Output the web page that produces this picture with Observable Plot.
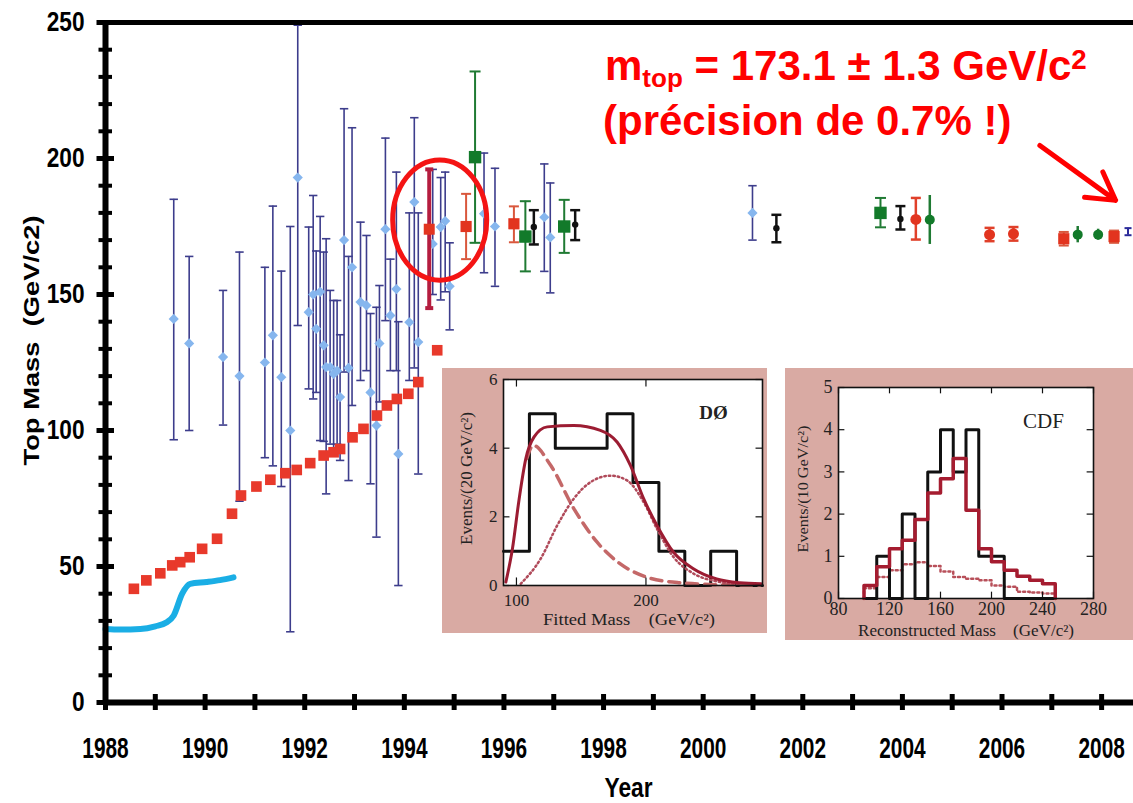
<!DOCTYPE html>
<html><head><meta charset="utf-8">
<script src="https://cdn.jsdelivr.net/npm/d3@7"></script>
<script src="https://cdn.jsdelivr.net/npm/@observablehq/plot@0.6"></script>
<style>
body{margin:0;background:#fff;}
#wrap{position:relative;width:1133px;height:803px;overflow:hidden;background:#fff;font-family:"Liberation Sans",Arial,sans-serif;}
#wrap > svg, #wrap > div{position:absolute;}
.note{color:#ff0000;font-weight:bold;font-size:42px;line-height:50px;white-space:nowrap;font-family:"Liberation Sans",Arial,sans-serif;}
.note .sb{font-size:0.62em;position:relative;top:0.25em;}
.note .sp{font-size:0.66em;position:relative;top:-0.4em;}
</style></head><body><div id="wrap"></div>
<script>
// ---------- main chart data ----------
const xTickYears = [1988,1989,1990,1991,1992,1993,1994,1995,1996,1997,1998,1999,2000,2001,2002,2003,2004,2005,2006,2007,2008];
const xLabelYears = [1988,1990,1992,1994,1996,1998,2000,2002,2004,2006,2008];
const yMinorTicks = [0,10,20,30,40,50,60,70,80,90,100,110,120,130,140,150,160,170,180,190,200,210,220,230,240,250];
const yLabelTicks = [0,50,100,150,200,250];
const xTitle = "Year";
const yTitle = "Top Mass\u00a0\u00a0(GeV/c2)";

// experimental lower limit (cyan band) [year, mass]
const cyanLimit = [[1988.0,27],[1988.3,26.8],[1988.7,27],[1989.0,28],[1989.23,29.5],[1989.37,32],[1989.54,40],[1989.7,43.6],[1990.03,44.3],[1990.3,45],[1990.57,46]];
// red square lower-limit series [year, mass]
const redLimit = [[1988.57,41.8],[1988.82,44.9],[1989.1,47.5],[1989.34,50.4],[1989.5,51.6],[1989.69,53.4],[1989.94,56.5],[1990.24,60.2],[1990.54,69.4],[1990.72,76.1],[1991.03,79.4],[1991.31,81.9],[1991.61,84.3],[1991.84,85.5],[1992.11,88],[1992.38,90.8],[1992.58,92],[1992.71,93.2],[1992.96,97.5],[1993.18,100.6],[1993.45,105.5],[1993.65,109.2],[1993.85,111.6],[1994.08,113.5],[1994.28,117.8],[1994.66,129.5]];
// indirect (electroweak fit) predictions [year, mass, high, low]
const ewPredictions = [
 [1989.37,141,185,96.6],[1989.68,132,164,100],[1990.36,127,151.5,102],[1990.69,120,165.6,74],
 [1991.20,125,160,90],[1991.36,135,182.5,87],[1991.53,119.6,158.6,79.4],[1991.71,100,175,26],
 [1991.86,193,249,138.6],[1992.08,143.5,174.8,115.3],[1992.17,150,186.4,111.6],[1992.23,137.4,166,114],
 [1992.31,151,178.7,96.3],[1992.38,131.3,165.6,96],[1992.43,123.3,170.5,76.7],[1992.51,123.3,151.5,95],
 [1992.58,120.8,147.8,93.2],[1992.65,122,147.8,95],[1992.71,112.3,135.2,89],[1992.79,170,218.3,121.5],
 [1992.88,123,164,81.6],[1992.95,160,211.3,109.2],[1993.12,147.2,176.6,118.4],[1993.24,146,171.7,122],
 [1993.32,114,143,80.4],[1993.44,101.8,145.3,60.8],[1993.5,132,153.3,110.5],[1993.62,174,207.5,140.4],
 [1993.72,142.3,163,122],[1993.84,152,195,122],[1993.88,91.4,140,43],[1994.1,139.8,180,118.4],
 [1994.2,184,215,123],[1994.28,132.5,180,84],[1994.57,168.6,196,150],[1994.73,174.8,193,148],
 [1994.82,177,195,151],[1994.91,153,169,137],[1995.6,179.7,202,158],[1995.82,175,196.4,153],
 [1996.81,178.4,198,158.5],[1996.93,171,191,150.6],[2000.99,180,190,170]
];
// direct measurements [year, mass, high, low]
const d0Evidence = [[1994.5,174,196,145]];
const redSquares = [[1995.24,175,187,163],[1996.2,176,182.4,169.2],[2007.24,170.5,173,168],[2008.25,171.3,173.5,169]];
const greenSquares = [[1995.42,200.5,232,169],[1996.43,171.3,184.3,158.5],[1997.21,175,184.8,165.3],[2003.56,180,185.5,174.7]];
const blackDots = [[1996.6,174.8,181,168.4],[1997.43,175.7,181,170],[2001.47,174.4,179.3,169.2],[2003.96,177.8,182.5,173.9]];
const redCircles = [[2004.27,177.6,185.5,170.2],[2005.75,172,174.5,169.6],[2006.23,172.3,174.8,169.8]];
const greenCircles = [[2004.55,177.5,186.4,168.4],[2007.52,172,175,169],[2007.93,172,174,170]];
const worldAverage = [[2008.53,173.1,174.4,171.8]];
// annotations (data units)
const circleMark = {year: 1994.72, mass: 177.2, rYears: 0.944, rMass: 22.1};
const arrowSeg = [{x1: 2006.76, y1: 204.8, x2: 2008.28, y2: 184.6}];
const noteLine1 = ["m", "top", " = 173.1 ± 1.3 GeV/c", "2"];
const noteLine2 = "(précision de 0.7% !)";

// ---------- DØ inset data ----------
const d0BinLow = [90,110,130,150,170,190,210,230,250,270];
const d0Counts = [1,5,4,4,5,3,1,0,1,0];
const d0TotalMass = [91.8,96.9,102,107.2,113.5,123.8,144.3,164.8,177.7,188,198.2,208.5,221.3,236.6,254.6,272.5,289];
const d0TotalVal = [0.1,1.07,2.5,3.69,4.32,4.62,4.66,4.52,4.18,3.5,2.53,1.75,0.97,0.49,0.19,0.08,0.05];
const d0BkgMass = [108,113,126.4,144.3,162.3,180.2,200.8,226.4,260,288];
const d0BkgVal = [3.7,4.08,3.5,2.24,1.26,0.63,0.24,0.08,0.02,0.01];
const d0SigMass = [103.3,118.7,131.5,144.3,157.2,172.5,185.4,198.2,208.5,221.3,236.6,254.6,272.5];
const d0SigVal = [0.05,0.78,1.75,2.53,3.01,3.2,3.06,2.43,1.65,0.83,0.35,0.12,0.04];
const d0Ticks = {x: [100,200], y: [0,2,4,6]};
const d0Titles = {x: "Fitted Mass\u00a0\u00a0\u00a0\u00a0(GeV/c²)", y: "Events/(20 GeV/c²)", tag: "DØ"};

// ---------- CDF inset data ----------
const cdfBinLow = [100,110,120,130,140,150,160,170,180,190,200,210,220,230,240];
const cdfObserved = [0,1,0,2,0,3,4,3,4,1,1,0,0,0,0];
const cdfExpected = [0.31,0.75,1.18,1.38,1.87,2.5,2.84,3.32,2.09,1.18,0.87,0.67,0.53,0.43,0.35];
const cdfBackground = [0.24,0.51,0.67,0.81,0.86,0.77,0.64,0.51,0.47,0.43,0.31,0.28,0.16,0.14,0.12];
const cdfTicks = {x: [80,120,160,200,240,280], y: [0,1,2,3,4,5]};
const cdfTitles = {x: "Reconstructed Mass\u00a0\u00a0\u00a0\u00a0(GeV/c²)", y: "Events/(10 GeV/c²)", tag: "CDF"};

// ---------- layout ----------
const W = 1133, H = 803, mL = 105, mT = 22, mR = 0, mB = 101;
const xDomain = [1988, 2008.64], yDomain = [0, 250];
const yPerPx = (yDomain[1]-yDomain[0])/(H-mT-mB);
const xPerPx = (xDomain[1]-xDomain[0])/(W-mL-mR);

const capSymbol = {draw(ctx, size){ const r = Math.sqrt(size/Math.PI); ctx.moveTo(-r,0); ctx.lineTo(r,0); }};
function errorBars(data, color, width, capR){
  const m = [Plot.ruleX(data, {x: d=>d[0], y1: d=>d[3], y2: d=>d[2], stroke: color, strokeWidth: width})];
  if (capR > 0) {
    m.push(Plot.dot(data, {x: d=>d[0], y: d=>d[2], symbol: capSymbol, r: capR, stroke: color, strokeWidth: width, fill: "none"}));
    m.push(Plot.dot(data, {x: d=>d[0], y: d=>d[3], symbol: capSymbol, r: capR, stroke: color, strokeWidth: width, fill: "none"}));
  }
  return m;
}
const P = d => ({x: d[0], y: d[1]});
function fitText(svg, str, len){
  d3.select(svg).selectAll("text").each(function(){
    if (this.textContent === str) d3.select(this).attr("textLength", len).attr("lengthAdjust", "spacingAndGlyphs");
  });
}

const main = Plot.plot({
  width: W, height: H, marginLeft: mL, marginRight: mR, marginTop: mT, marginBottom: mB,
  x: {domain: xDomain, label: null},
  y: {domain: yDomain, label: null},
  style: {background: "transparent", fontFamily: "'Liberation Sans', Arial, sans-serif", color: "#000", overflow: "visible"},
  marks: [
    ...errorBars(ewPredictions, "#3d3d8c", 1.6, 4.2),
    Plot.line(cyanLimit.map(P), {x: "x", y: "y", stroke: "#1aaee5", strokeWidth: 6, curve: "monotone-x"}),
    Plot.dot(redLimit.map(P), {x: "x", y: "y", symbol: "square", r: 6.0, fill: "#e8392b"}),
    Plot.dot(ewPredictions, {x: d=>d[0], y: d=>d[1], symbol: "diamond2", r: 4.6, fill: "#86b6ee"}),
    ...errorBars(d0Evidence, "#b51d3f", 4, 4),
    Plot.dot(d0Evidence, {x: d=>d[0], y: d=>d[1], symbol: "square", r: 6.2, fill: "#e2341f"}),
    ...errorBars(redSquares, "#d9573c", 2, 5),
    Plot.dot(redSquares, {x: d=>d[0], y: d=>d[1], symbol: "square", r: 6.3, fill: "#e2341f"}),
    ...errorBars(greenSquares, "#1f7a33", 2, 5.5),
    Plot.dot(greenSquares, {x: d=>d[0], y: d=>d[1], symbol: "square", r: 7.0, fill: "#127a2a"}),
    ...errorBars(blackDots, "#111", 2.5, 5),
    Plot.dot(blackDots, {x: d=>d[0], y: d=>d[1], r: 3.2, fill: "#111"}),
    ...errorBars(redCircles, "#e0402a", 2.5, 5),
    Plot.dot(redCircles, {x: d=>d[0], y: d=>d[1], r: 5.5, fill: "#e2341f"}),
    ...errorBars(greenCircles, "#1f7a33", 2.5, 0),
    Plot.dot(greenCircles, {x: d=>d[0], y: d=>d[1], r: 5, fill: "#127a2a"}),
    ...errorBars(worldAverage, "#2a2a9a", 2, 3.5),
    // axes
    Plot.ruleX([xDomain[0]], {stroke: "#000", strokeWidth: 6}),
    Plot.ruleY([0], {stroke: "#000", strokeWidth: 6}),
    Plot.ruleY([250], {stroke: "#000", strokeWidth: 5}),
    Plot.ruleX(xTickYears, {x: d=>d, y1: -8*yPerPx, y2: 8*yPerPx, stroke: "#000", strokeWidth: 5}),
    Plot.ruleY(yMinorTicks, {y: d=>d, x1: xDomain[0]-6.5*xPerPx, x2: xDomain[0]+7*xPerPx, stroke: "#000", strokeWidth: 4}),
    Plot.ruleY(yLabelTicks, {y: d=>d, x1: xDomain[0]-8.5*xPerPx, x2: xDomain[0]+9*xPerPx, stroke: "#000", strokeWidth: 5}),
    Plot.axisX({ticks: xLabelYears, tickSize: 0, tickPadding: 35, fontSize: 29, fontWeight: "bold", tickFormat: d => String(d), label: null}),
    Plot.axisY({ticks: yLabelTicks, tickSize: 0, tickPadding: 21, fontSize: 28, fontWeight: "bold", tickFormat: d => String(d), label: null}),
    Plot.text([xTitle], {frameAnchor: "bottom", lineAnchor: "middle", textAnchor: "middle", dx: 9, dy: 86, fontSize: 27, fontWeight: "bold", text: d=>d}),
    Plot.text([yTitle], {frameAnchor: "left", lineAnchor: "middle", textAnchor: "middle", rotate: -90, dx: -74, dy: -22, fontSize: 22, fontWeight: "bold", text: d=>d}),
    Plot.arrow(arrowSeg, {x1: "x1", y1: "y1", x2: "x2", y2: "y2", stroke: "#ff0000", strokeWidth: 5, headLength: 26})
  ]
});

const ms = d3.select(main);
ms.selectAll('g[aria-label="x-axis tick label"] text').attr("textLength", function(){ return 11.6*this.textContent.length; }).attr("lengthAdjust", "spacingAndGlyphs");
ms.selectAll('g[aria-label="y-axis tick label"] text').attr("textLength", function(){ return 12.6*this.textContent.length; }).attr("lengthAdjust", "spacingAndGlyphs");
fitText(main, xTitle, 48);
fitText(main, yTitle, 250);
{
  const sx = main.scale("x"), sy = main.scale("y");
  const cx = sx.apply(circleMark.year), cy = sy.apply(circleMark.mass);
  ms.append("ellipse").attr("cx", cx).attr("cy", cy)
    .attr("rx", sx.apply(circleMark.year + circleMark.rYears) - cx)
    .attr("ry", sy.apply(circleMark.mass - circleMark.rMass) - cy)
    .attr("fill", "none").attr("stroke", "#f41414").attr("stroke-width", 5);
}

function stepPoints(lows, vals, end, startZero){
  const pts = [];
  if (startZero) pts.push({x: lows[0], y: 0});
  lows.forEach((l,i) => pts.push({x: l, y: vals[i]}));
  pts.push({x: end, y: 0});
  return pts;
}

const serif = "'Liberation Serif', 'Times New Roman', serif";
const fmt = d => String(d);
// DØ inset
const inset1 = Plot.plot({
  width: 325, height: 265, marginLeft: 61, marginTop: 11, marginRight: 5, marginBottom: 48,
  x: {domain: [90, 290], label: null}, y: {domain: [0, 6], label: null},
  style: {background: "#d9aaa3", fontFamily: serif, color: "#222", overflow: "visible"},
  marks: [
    Plot.frame({fill: "white", stroke: "none"}),
    Plot.line(stepPoints(d0BinLow, d0Counts, 290, false), {x: "x", y: "y", curve: "step-after", stroke: "#111", strokeWidth: 3}),
    Plot.line(d0BkgMass.map((m,i)=>({x:m, y:d0BkgVal[i]})), {x: "x", y: "y", curve: "monotone-x", stroke: "#c46868", strokeWidth: 3.5, strokeDasharray: "11,7"}),
    Plot.line(d0SigMass.map((m,i)=>({x:m, y:d0SigVal[i]})), {x: "x", y: "y", curve: "monotone-x", stroke: "#b04a5a", strokeWidth: 2.5, strokeDasharray: "1.5,3"}),
    Plot.line(d0TotalMass.map((m,i)=>({x:m, y:d0TotalVal[i]})), {x: "x", y: "y", curve: "monotone-x", stroke: "#9c1c32", strokeWidth: 3}),
    Plot.ruleX(d0Ticks.x, {x: d=>d, y1: 0, y2: 0.22, stroke: "#111", strokeWidth: 1.2}),
    Plot.ruleX(d0Ticks.x, {x: d=>d, y1: 5.78, y2: 6, stroke: "#111", strokeWidth: 1.2}),
    Plot.ruleY(d0Ticks.y, {y: d=>d, x1: 90, x2: 95, stroke: "#111", strokeWidth: 1.2}),
    Plot.ruleY(d0Ticks.y, {y: d=>d, x1: 285, x2: 290, stroke: "#111", strokeWidth: 1.2}),
    Plot.frame({stroke: "#111", strokeWidth: 1.6}),
    Plot.axisX({ticks: d0Ticks.x, tickSize: 0, tickPadding: 8, fontSize: 17, tickFormat: fmt, label: null}),
    Plot.axisY({ticks: d0Ticks.y, tickSize: 0, tickPadding: 6, fontSize: 17, tickFormat: fmt, label: null}),
    Plot.text([d0Titles.x], {frameAnchor: "bottom", lineAnchor: "middle", textAnchor: "middle", dx: -4, dy: 34, fontSize: 16, text: d=>d}),
    Plot.text([d0Titles.y], {frameAnchor: "left", lineAnchor: "middle", textAnchor: "middle", rotate: -90, dx: -37, dy: -4, fontSize: 16, text: d=>d}),
    Plot.text([d0Titles.tag], {frameAnchor: "top-right", lineAnchor: "middle", textAnchor: "middle", dx: -49, dy: 33, fontSize: 19, fontWeight: "bold", text: d=>d})
  ]
});
fitText(inset1, d0Titles.x, 172);
fitText(inset1, d0Titles.y, 133);
inset1.style.left = "442px"; inset1.style.top = "368px";

// CDF inset
const inset2 = Plot.plot({
  width: 348, height: 272, marginLeft: 53, marginTop: 19, marginRight: 40, marginBottom: 42,
  x: {domain: [80, 280], label: null}, y: {domain: [0, 5], label: null},
  style: {background: "#d9aaa3", fontFamily: serif, color: "#222", overflow: "visible"},
  marks: [
    Plot.frame({fill: "white", stroke: "none"}),
    Plot.line(stepPoints(cdfBinLow, cdfBackground, 250, true), {x: "x", y: "y", curve: "step-after", stroke: "#b8505a", strokeWidth: 2.5, strokeDasharray: "2,3"}),
    Plot.line(stepPoints(cdfBinLow, cdfObserved, 250, true), {x: "x", y: "y", curve: "step-after", stroke: "#111", strokeWidth: 3}),
    Plot.line(stepPoints(cdfBinLow, cdfExpected, 250, true), {x: "x", y: "y", curve: "step-after", stroke: "#a51c30", strokeWidth: 3.5}),
    Plot.ruleX(cdfTicks.x, {x: d=>d, y1: 0, y2: 0.15, stroke: "#111", strokeWidth: 1.2}),
    Plot.ruleX(cdfTicks.x, {x: d=>d, y1: 4.85, y2: 5, stroke: "#111", strokeWidth: 1.2}),
    Plot.ruleY(cdfTicks.y, {y: d=>d, x1: 80, x2: 85, stroke: "#111", strokeWidth: 1.2}),
    Plot.ruleY(cdfTicks.y, {y: d=>d, x1: 275, x2: 280, stroke: "#111", strokeWidth: 1.2}),
    Plot.frame({stroke: "#111", strokeWidth: 1.6}),
    Plot.axisX({ticks: cdfTicks.x, tickSize: 0, tickPadding: 4, fontSize: 18, tickFormat: fmt, label: null}),
    Plot.axisY({ticks: cdfTicks.y, tickSize: 0, tickPadding: 6, fontSize: 18, tickFormat: fmt, label: null}),
    Plot.text([cdfTitles.x], {frameAnchor: "bottom", lineAnchor: "middle", textAnchor: "middle", dx: 0, dy: 32, fontSize: 16, text: d=>d}),
    Plot.text([cdfTitles.y], {frameAnchor: "left", lineAnchor: "middle", textAnchor: "middle", rotate: -90, dx: -35, dy: -4, fontSize: 15, text: d=>d}),
    Plot.text([cdfTitles.tag], {frameAnchor: "top-right", lineAnchor: "middle", textAnchor: "middle", dx: -50, dy: 34, fontSize: 21, text: d=>d})
  ]
});
fitText(inset2, cdfTitles.x, 216);
fitText(inset2, cdfTitles.y, 127);
inset2.style.left = "785px"; inset2.style.top = "368px";

const wrap = document.getElementById("wrap");
main.style.left = "0px"; main.style.top = "0px";
wrap.appendChild(main);
wrap.appendChild(inset1);
wrap.appendChild(inset2);

const note = document.createElement("div");
note.className = "note";
note.style.left = "605px"; note.style.top = "41px";
const l1 = document.createElement("div");
l1.append(noteLine1[0]);
const sb = document.createElement("span"); sb.className = "sb"; sb.textContent = noteLine1[1]; l1.append(sb);
l1.append(noteLine1[2]);
const sp = document.createElement("span"); sp.className = "sp"; sp.textContent = noteLine1[3]; l1.append(sp);
const l2 = document.createElement("div"); l2.style.marginLeft = "-2px"; l2.textContent = noteLine2;
note.append(l1, l2);
wrap.appendChild(note);
</script>
</body></html>
